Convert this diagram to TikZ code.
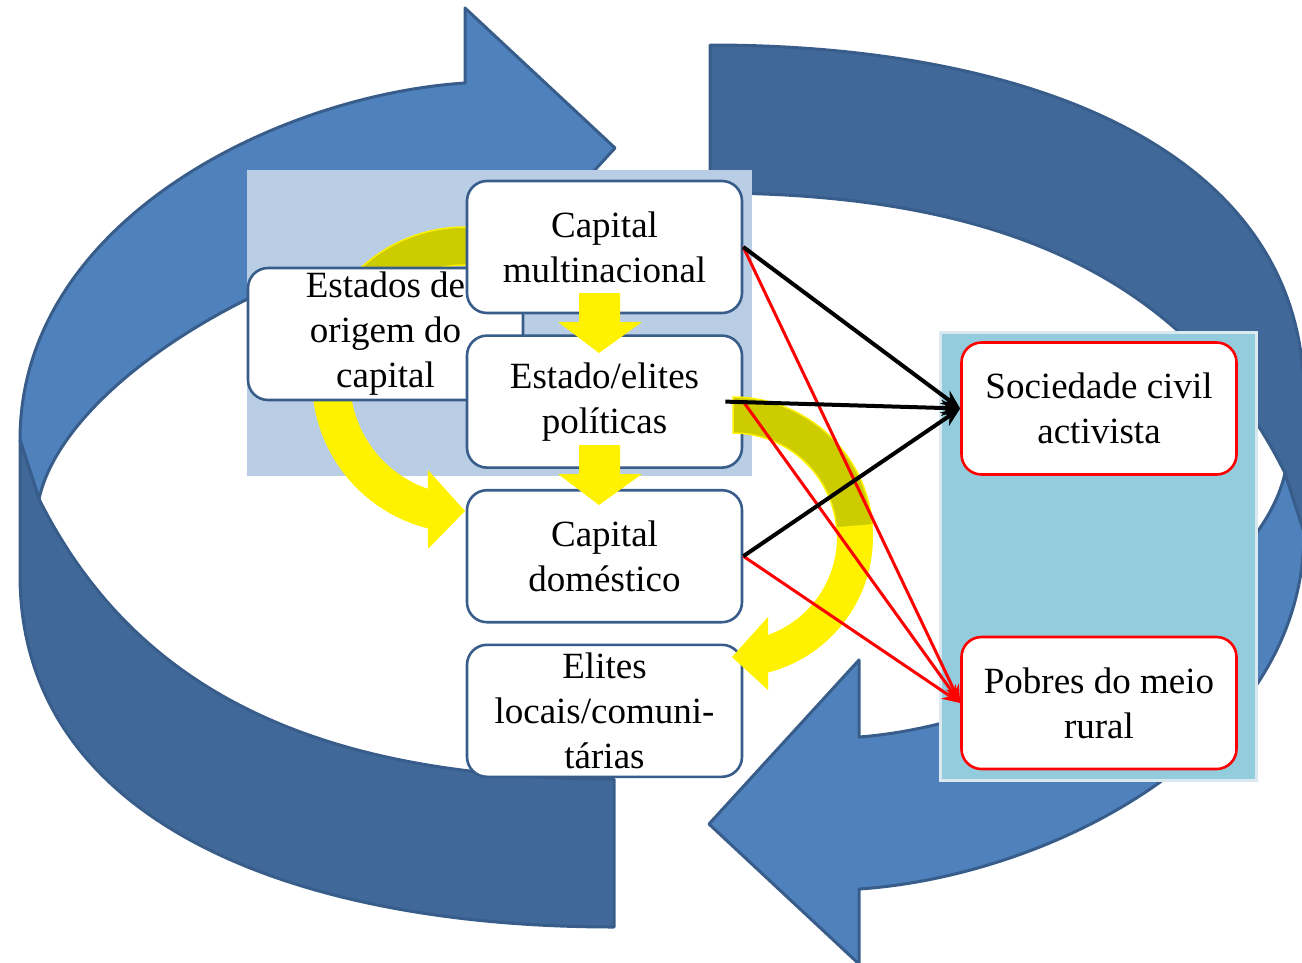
\documentclass[tikz,border=0pt]{standalone}
\usepackage{fontspec}
\setmainfont{Liberation Serif}
\usetikzlibrary{positioning,arrows.meta}

\definecolor{anelclaro}{RGB}{79,129,189}
\definecolor{anelescuro}{RGB}{64,104,152}
\definecolor{anelborda}{RGB}{56,93,138}
\definecolor{painelazul}{RGB}{185,205,229}
\definecolor{painelciano}{RGB}{147,205,221}
\definecolor{painelborda}{RGB}{218,232,240}
\definecolor{bordacaixa}{RGB}{56,93,138}
\definecolor{oliva}{RGB}{204,204,0}

\begin{document}
\begin{tikzpicture}[x=1pt,y=-1pt]
				\tikzstyle{caixa}=[draw=bordacaixa,line width=2.6pt,fill=white,rounded corners=20pt,minimum width=275pt,minimum height=132pt,inner sep=0pt,align=center,font=\fontsize{37}{45}\selectfont]
				\tikzstyle{caixavermelha}=[caixa,draw=red]
				\tikzstyle{anel}=[draw=anelborda,line width=3pt,line join=round]
				\tikzstyle{setapreta}=[draw=black,line width=4pt,-{Stealth[length=19pt,width=16pt]}]
				\tikzstyle{setavermelha}=[draw=red,line width=3pt,-{Stealth[length=18pt,width=14pt]}]
				
				\useasboundingbox (0,0) rectangle (1302,962);
				
				% anel
				\foreach \r in {0,180} {
					\begin{scope}[rotate around={\r:(662,486)}]
						\path[anel,fill=anelclaro] (465,83) .. controls (280,95) and (20,220) .. (20,440)
							-- (39,499) .. controls (65,380) and (290,248) .. (465,235)
							-- (465,312) -- (615,148) -- (465,8) -- cycle;
						\path[anel,fill=anelescuro] (20,440) -- (39,499)
							.. controls (139,699) and (330,779) .. (614,779)
							-- (614,927) .. controls (290,927) and (20,820) .. (20,575) -- cycle;
					\end{scope}
				}
				
				\fill[painelazul] (247,170) rectangle (752,476);
				\filldraw[fill=painelciano,draw=painelborda,line width=3pt] (940,332) rectangle (1256,780);
				
				% seta amarela da esquerda
				\fill[yellow] plot[domain=80:256,samples=60,variable=\a] ({465+153*cos(\a)},{380-153*sin(\a)})
					-- (428,549) -- (465,511) -- (428,470)
					-- plot[domain=251.2:80,samples=60,variable=\a] ({465+115*cos(\a)},{380-115*sin(\a)}) -- cycle;
				\filldraw[fill=oliva,draw=yellow,line width=1.5pt] plot[domain=80:165,samples=30,variable=\a] ({465+153*cos(\a)},{380-153*sin(\a)})
					-- plot[domain=165:80,samples=30,variable=\a] ({465+115*cos(\a)},{380-115*sin(\a)}) -- cycle;
				
				\node[caixa] (estados) at (385.5,334) {Estados de\\origem do\\capital};
				\node[caixa] (cmult) at (604.5,247) {Capital\\multinacional};
				\node[caixa,below=20pt of cmult] (estado) {Estado/elites\\políticas};
				\node[caixa,below=20pt of estado] (cdom) {Capital\\doméstico};
				\node[caixa,below=20pt of cdom] (elites) {Elites\\locais/comuni-\\tárias};
				
				\foreach \y in {0,152}
					\fill[yellow] (579,{293+\y}) -- (620,{293+\y}) -- (620,{322+\y}) -- (642,{322+\y})
						-- (599,{353+\y}) -- (558,{322+\y}) -- (579,{322+\y}) -- cycle;
				
				% seta amarela da direita
				\fill[yellow] plot[domain=90:-75.5,samples=60,variable=\a] ({733+140*cos(\a)},{537-140*sin(\a)})
					-- (768,690) -- (732,657) -- (768,617)
					-- plot[domain=-70.3:90,samples=60,variable=\a] ({733+104*cos(\a)},{537-104*sin(\a)}) -- cycle;
				\filldraw[fill=oliva,draw=yellow,line width=1.5pt] plot[domain=90:5,samples=30,variable=\a] ({733+140*cos(\a)},{537-140*sin(\a)})
					-- plot[domain=5:90,samples=30,variable=\a] ({733+104*cos(\a)},{537-104*sin(\a)}) -- cycle;
				
				\node[caixavermelha] (socied) at (1099,408.5) {Sociedade civil\\activista};
				\node[caixavermelha] (pobres) at (1099,703) {Pobres do meio\\rural};
				
				\draw[setavermelha] (cmult.east) -- (pobres.west);
				\draw[setavermelha] (estado.east) -- (pobres.west);
				\draw[setavermelha] (cdom.east) -- (pobres.west);
				\draw[setapreta] (cmult.east) -- (socied.west);
				\draw[setapreta] ([xshift=-18pt]estado.east) -- (socied.west);
				\draw[setapreta] (cdom.east) -- (socied.west);
				
\end{tikzpicture}
\end{document}
